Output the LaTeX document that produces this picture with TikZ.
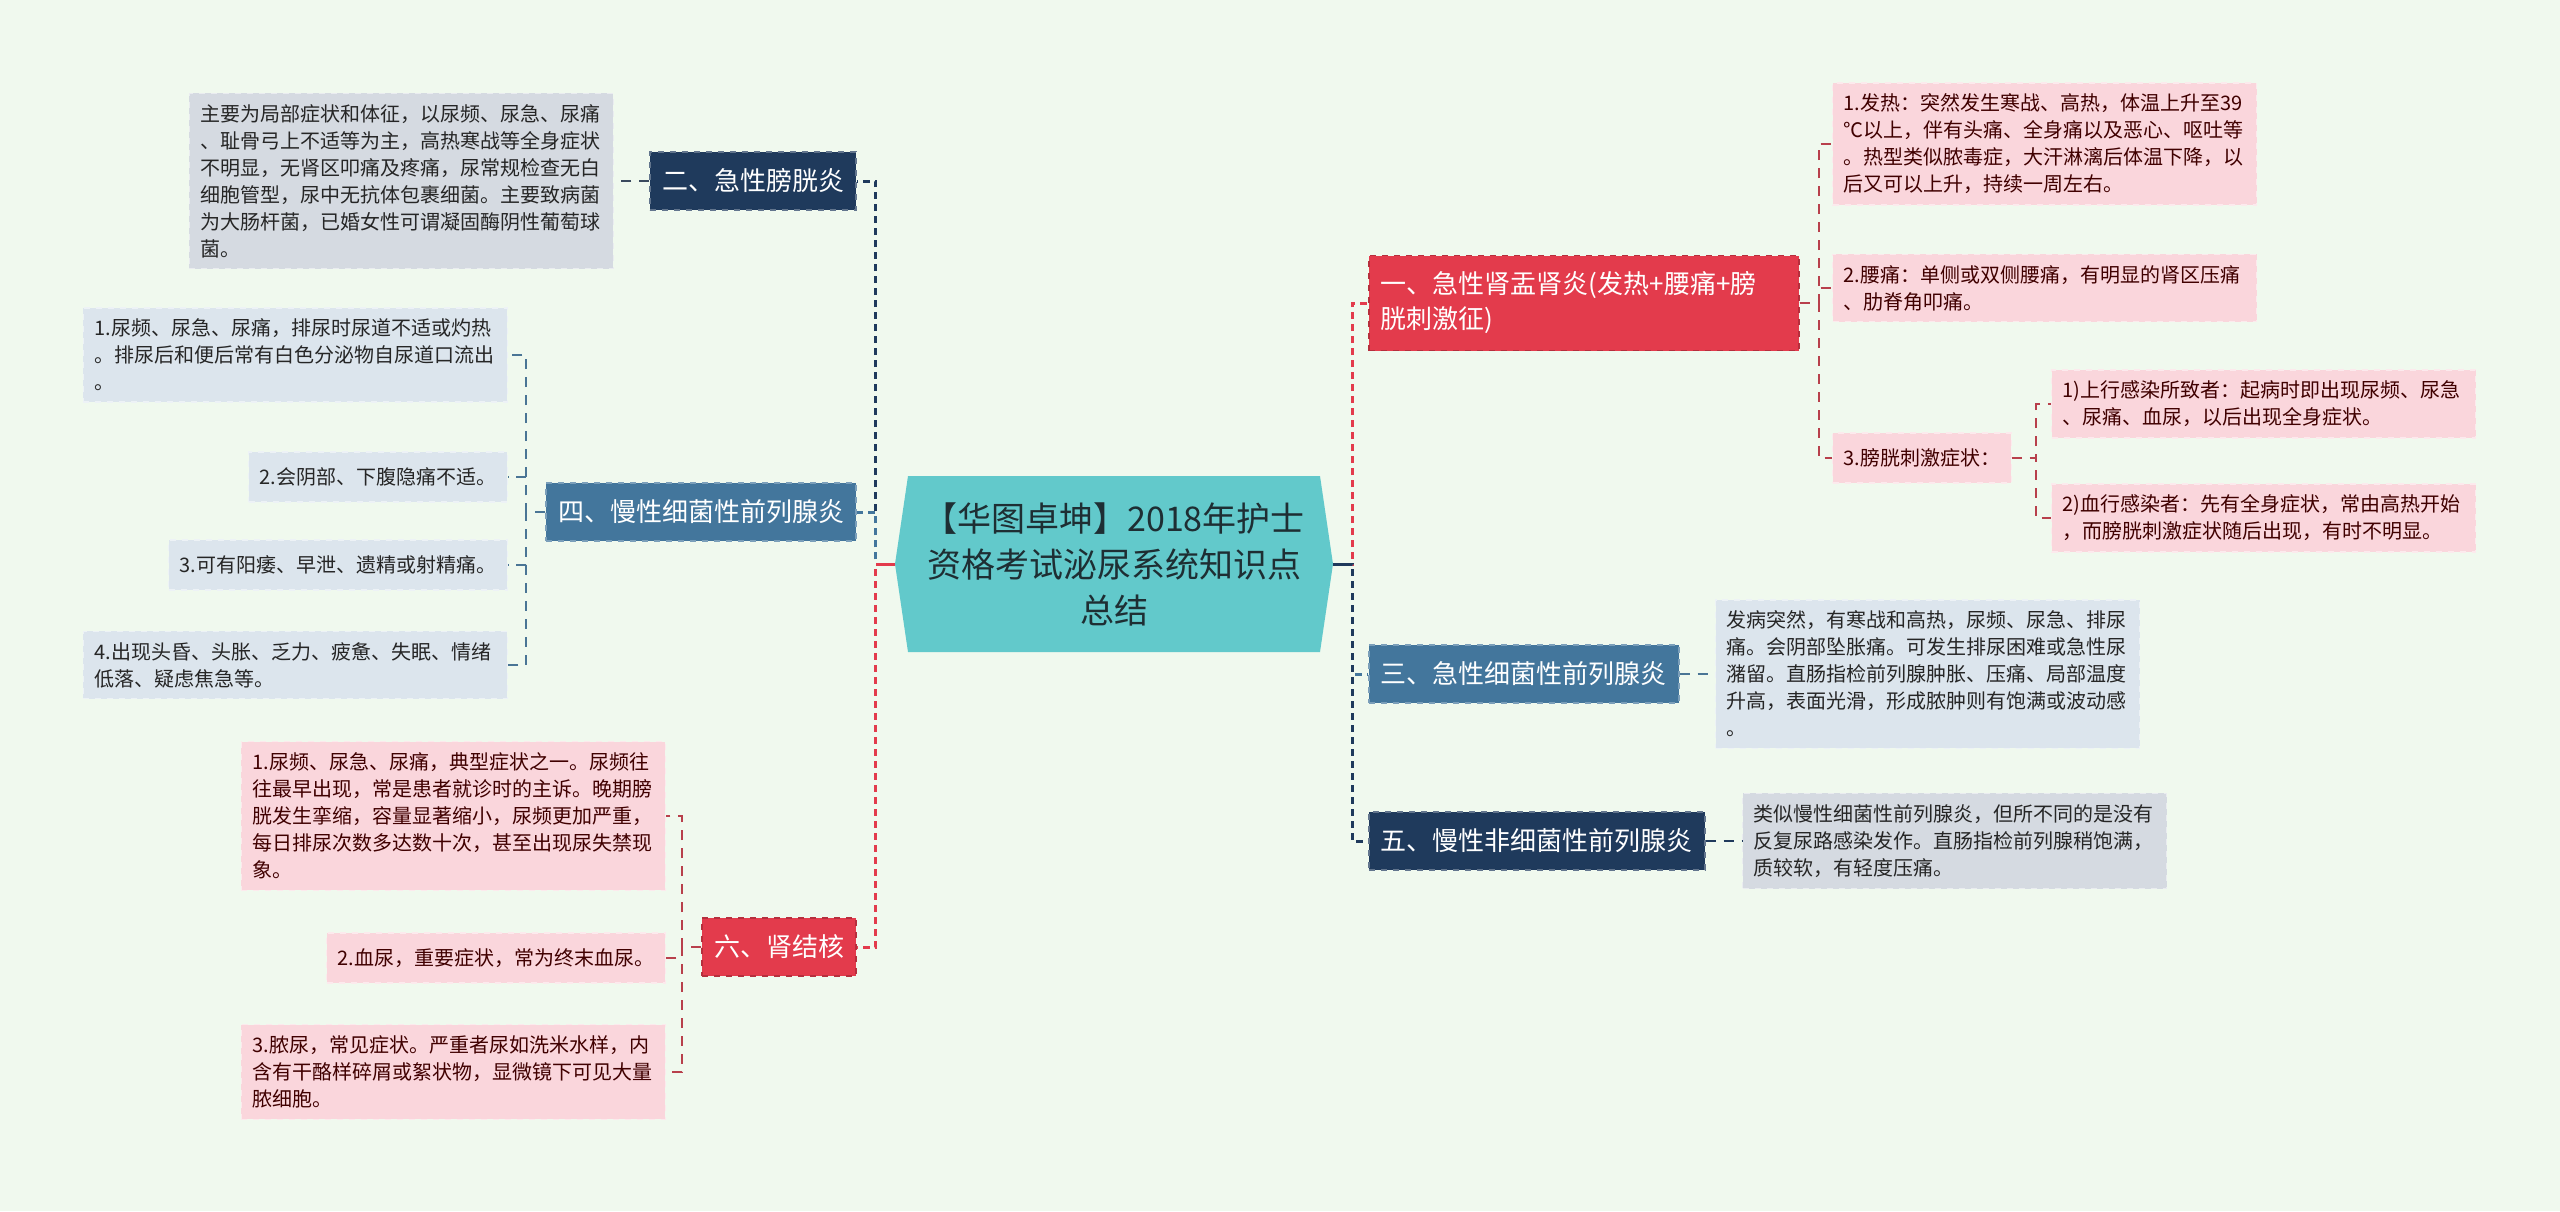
\documentclass[tikz,border=0pt]{standalone}
\usepackage{fontspec}
\setmainfont{Noto Sans CJK SC}
\usepackage{xcolor}
\usepackage{tikz}
\definecolor{bgmint}{HTML}{F0F9EE}
\definecolor{tealc}{HTML}{62C9CB}
\definecolor{roottext}{HTML}{1E2E33}
\definecolor{navyc}{HTML}{1F3A5C}
\definecolor{steelc}{HTML}{43769C}
\definecolor{redc}{HTML}{E33B4C}
\definecolor{greyleaf}{HTML}{D5DAE1}
\definecolor{blueleaf}{HTML}{DCE5ED}
\definecolor{pinkleaf}{HTML}{FAD6DC}
\definecolor{greylink}{HTML}{3A4A5E}
\definecolor{steellink}{HTML}{4A7595}
\definecolor{redlink}{HTML}{B8404C}
\tikzstyle{rootlabel}=[rectangle,minimum width=219pt,minimum height=88pt,align=center,text=roottext,font=\fontsize{17pt}{23pt}\selectfont]
\tikzstyle{topic}=[rectangle,inner xsep=6pt,inner ysep=3pt,minimum height=29pt,text=white,dashed,line width=0.8pt,font=\fontsize{13pt}{17.5pt}\selectfont]
\tikzstyle{navytopic}=[topic,fill=navyc,draw=navyc!70!white]
\tikzstyle{steeltopic}=[topic,fill=steelc,draw=steelc!70!white]
\tikzstyle{redtopic}=[topic,fill=redc,draw=redc!80!black]
\tikzstyle{note}=[rectangle,inner xsep=5.5pt,inner ysep=5.5pt,minimum height=25pt,align=left,dashed,line width=0.6pt,font=\fontsize{10pt}{13.5pt}\selectfont]
\tikzstyle{greynote}=[note,fill=greyleaf,draw=white!50!greyleaf,text=black!85]
\tikzstyle{bluenote}=[note,fill=blueleaf,draw=white!50!blueleaf,text=black!85]
\tikzstyle{pinknote}=[note,fill=pinkleaf,draw=white!50!pinkleaf,text=red!25!black]
\tikzstyle{trunk}=[line width=1.5pt,dash pattern=on 3.5pt off 2.5pt]
\tikzstyle{twig}=[line width=1pt,dash pattern=on 5pt off 4pt]

\begin{document}
\begin{tikzpicture}[x=0.5pt,y=-0.5pt]
  \fill[bgmint] (0,0) rectangle (2560,1211);
  \useasboundingbox (0,0) rectangle (2560,1211);

  % centre
  \fill[tealc] (895,564) -- (908,476) -- (1320,476) -- (1333,564) -- (1320,652) -- (908,652) -- cycle;
  \node at (1114,564) [rootlabel] (root) {【华图卓坤】2018年护士\\资格考试泌尿系统知识点\\总结};

  % left side
  \node at (857,181) [navytopic,anchor=east] (acutecyst) {二、急性膀胱炎};
  \node at (614,181) [greynote,anchor=east,text width=201pt] (acutecystnote) {主要为局部症状和体征，以尿频、尿急、尿痛\\、耻骨弓上不适等为主，高热寒战等全身症状\\不明显，无肾区叩痛及疼痛，尿常规检查无白\\细胞管型，尿中无抗体包裹细菌。主要致病菌\\为大肠杆菌，已婚女性可谓凝固酶阴性葡萄球\\菌。};

  \node at (857,512) [steeltopic,anchor=east] (chronbact) {四、慢性细菌性前列腺炎};
  \node at (508,355) [bluenote,anchor=east,text width=201pt] (chronbact1) {1.尿频、尿急、尿痛，排尿时尿道不适或灼热\\。排尿后和便后常有白色分泌物自尿道口流出\\。};
  \node at (508,477) [bluenote,anchor=east] (chronbact2) {2.会阴部、下腹隐痛不适。};
  \node at (508,565) [bluenote,anchor=east] (chronbact3) {3.可有阳痿、早泄、遗精或射精痛。};
  \node at (508,665) [bluenote,anchor=east,text width=201pt] (chronbact4) {4.出现头昏、头胀、乏力、疲惫、失眠、情绪\\低落、疑虑焦急等。};

  \node at (857,947) [redtopic,anchor=east] (renaltb) {六、肾结核};
  \node at (666,816) [pinknote,anchor=east,text width=201pt] (renaltb1) {1.尿频、尿急、尿痛，典型症状之一。尿频往\\往最早出现，常是患者就诊时的主诉。晚期膀\\胱发生挛缩，容量显著缩小，尿频更加严重，\\每日排尿次数多达数十次，甚至出现尿失禁现\\象。};
  \node at (666,958) [pinknote,anchor=east] (renaltb2) {2.血尿，重要症状，常为终末血尿。};
  \node at (666,1072) [pinknote,anchor=east,text width=201pt] (renaltb3) {3.脓尿，常见症状。严重者尿如洗米水样，内\\含有干酪样碎屑或絮状物，显微镜下可见大量\\脓细胞。};

  % right side
  \node at (1368,303) [redtopic,anchor=west,text width=203pt,align=left,minimum height=47.5pt] (pyelo) {一、急性肾盂肾炎(发热+腰痛+膀\\胱刺激征)};
  \node at (1832,144) [pinknote,anchor=west,text width=201pt] (pyelo1) {1.发热：突然发生寒战、高热，体温上升至39\\℃以上，伴有头痛、全身痛以及恶心、呕吐等\\。热型类似脓毒症，大汗淋漓后体温下降，以\\后又可以上升，持续一周左右。};
  \node at (1832,288) [pinknote,anchor=west,text width=201pt] (pyelo2) {2.腰痛：单侧或双侧腰痛，有明显的肾区压痛\\、肋脊角叩痛。};
  \node at (1832,458) [pinknote,anchor=west] (pyelo3) {3.膀胱刺激症状：};
  \node at (2051,404) [pinknote,anchor=west,text width=201pt] (pyelo3a) {1)上行感染所致者：起病时即出现尿频、尿急\\、尿痛、血尿，以后出现全身症状。};
  \node at (2051,518) [pinknote,anchor=west,text width=201pt] (pyelo3b) {2)血行感染者：先有全身症状，常由高热开始\\，而膀胱刺激症状随后出现，有时不明显。};

  \node at (1368,674) [steeltopic,anchor=west] (acutebact) {三、急性细菌性前列腺炎};
  \node at (1715,674) [bluenote,anchor=west,text width=201pt] (acutebactnote) {发病突然，有寒战和高热，尿频、尿急、排尿\\痛。会阴部坠胀痛。可发生排尿困难或急性尿\\潴留。直肠指检前列腺肿胀、压痛、局部温度\\升高，表面光滑，形成脓肿则有饱满或波动感\\。};
  \node at (1368,841) [navytopic,anchor=west] (nonbact) {五、慢性非细菌性前列腺炎};
  \node at (1742,841) [greynote,anchor=west,text width=201pt] (nonbactnote) {类似慢性细菌性前列腺炎，但所不同的是没有\\反复尿路感染发作。直肠指检前列腺稍饱满，\\质较软，有轻度压痛。};

  % main branches
  \draw[trunk,navyc] (root.west) -- ++(-19,0) |- (acutecyst.east);
  \draw[trunk,redc] (root.west) -- ++(-19,0) |- (renaltb.east);
  \draw[trunk,steelc] (root.west) -- ++(-19,0) |- (chronbact.east);
  \draw[line width=1.5pt,redc] (root.west) -- ++(-19,0);
  \draw[trunk,redc] (root.east) -- ++(19,0) |- (pyelo.west);
  \draw[trunk,steelc] (root.east) -- ++(19,0) |- (acutebact.west);
  \draw[trunk,navyc] (root.east) -- ++(19,0) |- (nonbact.west);
  \draw[line width=1.5pt,navyc] (root.east) -- ++(19,0);

  % leaves
  \draw[twig,greylink] (acutecyst.west) -- (acutecystnote.east);
  \foreach \n in {1,...,4}
    \draw[twig,steellink] (chronbact.west) -- ++(-19,0) |- (chronbact\n.east);
  \foreach \n in {1,2,3}
    \draw[twig,redlink] (renaltb.west) -- ++(-19,0) |- (renaltb\n.east);
  \foreach \n in {1,2,3}
    \draw[twig,redlink] (pyelo.east) -- ++(19,0) |- (pyelo\n.west);
  \foreach \n in {a,b}
    \draw[twig,redlink] (pyelo3.east) -- ++(24,0) |- (pyelo3\n.west);
  \draw[twig,steellink] (acutebact.east) -- (acutebactnote.west);
  \draw[twig,navyc] (nonbact.east) -- (nonbactnote.west);
\end{tikzpicture}
\end{document}
